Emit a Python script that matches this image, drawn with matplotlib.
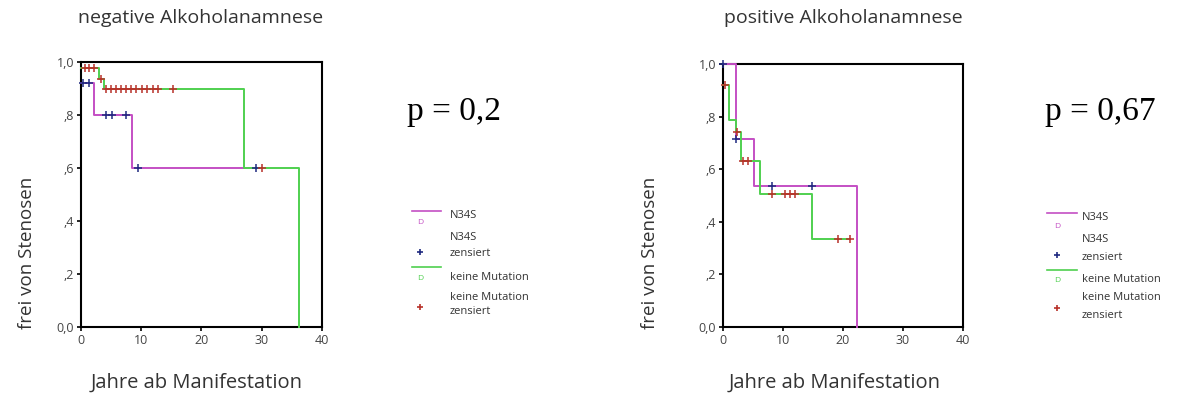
import numpy as np
import matplotlib
matplotlib.use("Agg")
import matplotlib.pyplot as plt
from matplotlib.lines import Line2D

# ---- data -------------------------------------------------------------
group_names = ["N34S", "keine Mutation"]
y_tick_vals = [0.0, 0.2, 0.4, 0.6, 0.8, 1.0]
y_tick_labels = ["0,0", ",2", ",4", ",6", ",8", "1,0"]
x_tick_vals = [0, 10, 20, 30, 40]

# negative Alkoholanamnese
neg_n34s_t = [0.0, 2.1, 8.4, 29.0]
neg_n34s_s = [0.92, 0.80, 0.60, 0.60]
neg_n34s_cens = [0.3, 1.3, 4.2, 5.1, 7.4, 9.4, 29.0]

neg_wt_t = [0.0, 3.0, 3.9, 27.0, 36.1]
neg_wt_s = [0.977, 0.937, 0.90, 0.60, 0.0]
neg_wt_cens = [0.6, 1.3, 2.2, 3.3, 4.2, 5.0, 5.8, 6.6, 7.5, 8.3, 9.2,
               10.1, 11.0, 12.0, 12.8, 15.2, 30.1]

# positive Alkoholanamnese
pos_n34s_t = [0.0, 2.2, 5.1, 22.3]
pos_n34s_s = [1.0, 0.714, 0.536, 0.0]
pos_n34s_cens = [0.0, 2.2, 8.1, 14.9]

pos_wt_t = [0.0, 1.0, 2.1, 3.0, 6.1, 14.9, 21.1]
pos_wt_s = [0.92, 0.786, 0.74, 0.63, 0.505, 0.336, 0.336]
pos_wt_cens = [0.3, 2.3, 3.4, 4.1, 8.1, 10.3, 11.2, 12.0, 19.2, 21.1]

titles = ["negative Alkoholanamnese", "positive Alkoholanamnese"]
p_texts = ["p = 0,2", "p = 0,67"]
x_label = "Jahre ab Manifestation"
y_label = "frei von Stenosen"

# ---- styling ----------------------------------------------------------
C_N34S = "#c44fc4"
C_WT = "#4fd04f"
C_N34S_CENS = "#1f2a80"
C_WT_CENS = "#b8322a"
TXT = "#333333"
SANS = ["Open Sans", "DejaVu Sans"]


def step_value(t, s, x):
    idx = np.searchsorted(np.asarray(t), x, side="right") - 1
    return np.asarray(s)[np.clip(idx, 0, len(s) - 1)]


def km_panel(ax, curves):
    for t, s, cens, lc, cc in curves:
        ax.step(t, s, where="post", color=lc, lw=1.4, clip_on=False, zorder=3)
    for t, s, cens, lc, cc in curves:
        ax.plot(cens, step_value(t, s, cens), ls="none", marker="+",
                ms=6, mew=1.1, color=cc, clip_on=False, zorder=4)
    ax.set_xlim(0, 40)
    ax.set_ylim(0, 1.0)
    ax.set_xticks(x_tick_vals)
    ax.set_yticks(y_tick_vals)
    ax.set_yticklabels(y_tick_labels)
    ax.tick_params(direction="out", length=3, width=1.2, labelsize=9,
                   labelcolor="#444444", pad=2)
    for sp in ax.spines.values():
        sp.set_linewidth(1.5)
        sp.set_color("black")
    for lab in ax.get_xticklabels() + ax.get_yticklabels():
        lab.set_family(SANS)


W, H = 1178, 399
fig = plt.figure(figsize=(W / 100, H / 100), dpi=100)

def fx(px):
    return px / W

def fy(py):
    return 1 - py / H

ax1 = fig.add_axes([fx(81), fy(327), fx(241), (327 - 62) / H])
ax2 = fig.add_axes([fx(723), fy(327), fx(240), (327 - 64) / H])

km_panel(ax1, [
    (neg_n34s_t, neg_n34s_s, np.array(neg_n34s_cens), C_N34S, C_N34S_CENS),
    (neg_wt_t, neg_wt_s, np.array(neg_wt_cens), C_WT, C_WT_CENS),
])
km_panel(ax2, [
    (pos_n34s_t, pos_n34s_s, np.array(pos_n34s_cens), C_N34S, C_N34S_CENS),
    (pos_wt_t, pos_wt_s, np.array(pos_wt_cens), C_WT, C_WT_CENS),
])

# titles, axis labels and p-values
for cx, ttl in zip([201, 843], titles):
    fig.text(fx(cx), fy(18), ttl, ha="center", va="center", fontsize=14,
             color=TXT, family=SANS)
for cx in [27, 650]:
    fig.text(fx(cx), fy(253), y_label, ha="center", va="center", rotation=90,
             fontsize=13.5, color=TXT, family=SANS)
for cx in [197, 835]:
    fig.text(fx(cx), fy(383), x_label, ha="center", va="center",
             fontsize=14.5, color=TXT, family=SANS)
for cx, pt in zip([454, 1100], p_texts):
    fig.text(fx(cx), fy(112), pt, ha="center", va="center", fontsize=24,
             color="black", family=["Liberation Serif", "DejaVu Serif"])


# legends
def legend(x_line0, x_line1, x_sym, x_txt, ys):
    y_l1, y_d1, y_n1, y_c1a, y_c1b, y_cp1, y_l2, y_d2, y_n2, y_c2a, y_c2b, y_cp2 = ys
    fs = 8
    fig.add_artist(Line2D([fx(x_line0), fx(x_line1)], [fy(y_l1), fy(y_l1)],
                          color=C_N34S, lw=1.2))
    fig.text(fx(x_sym), fy(y_d1), "D", color=C_N34S, fontsize=6,
             ha="center", va="center", family=SANS)
    fig.text(fx(x_txt), fy(y_n1), group_names[0], fontsize=fs, color=TXT,
             va="center", family=SANS)
    fig.text(fx(x_txt), fy(y_c1a), group_names[0], fontsize=fs, color=TXT,
             va="center", family=SANS)
    fig.text(fx(x_txt), fy(y_c1b), "zensiert", fontsize=fs, color=TXT,
             va="center", family=SANS)
    fig.add_artist(Line2D([fx(x_sym)], [fy(y_cp1)], marker="+", ms=5,
                          mew=1.2, color=C_N34S_CENS, ls="none"))
    fig.add_artist(Line2D([fx(x_line0), fx(x_line1)], [fy(y_l2), fy(y_l2)],
                          color=C_WT, lw=1.2))
    fig.text(fx(x_sym), fy(y_d2), "D", color=C_WT, fontsize=6,
             ha="center", va="center", family=SANS)
    fig.text(fx(x_txt), fy(y_n2), group_names[1], fontsize=fs, color=TXT,
             va="center", family=SANS)
    fig.text(fx(x_txt), fy(y_c2a), group_names[1], fontsize=fs, color=TXT,
             va="center", family=SANS)
    fig.text(fx(x_txt), fy(y_c2b), "zensiert", fontsize=fs, color=TXT,
             va="center", family=SANS)
    fig.add_artist(Line2D([fx(x_sym)], [fy(y_cp2)], marker="+", ms=5,
                          mew=1.2, color=C_WT_CENS, ls="none"))


legend(412, 441, 420, 450,
       [211, 223, 215, 238, 253, 252, 267, 278, 278, 297, 312, 307])
legend(1047, 1077, 1057, 1082,
       [213, 227, 218, 240, 257, 255, 270, 280, 280, 298, 316, 308])

fig.savefig("out.png", dpi=100)
